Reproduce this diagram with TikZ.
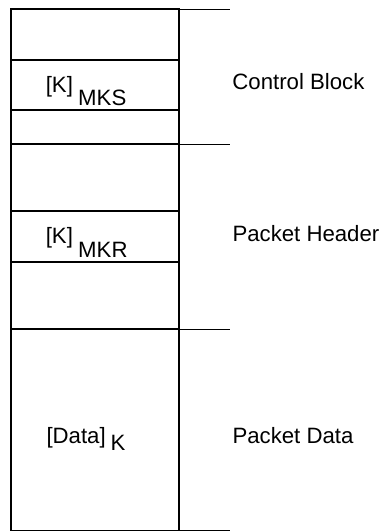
\documentclass[tikz,border=0pt]{standalone}
\usepackage{fontspec}
\setmainfont{Liberation Sans}
\begin{document}
\begin{tikzpicture}[x=1pt,y=-1pt,
  font=\fontsize{22.2}{26}\selectfont,
  lbl/.style={anchor=base west, inner sep=0pt},
  rule/.style={line width=1.2pt, line cap=rect},
  ext/.style={line width=1pt}]
\useasboundingbox (0,0) rectangle (381,531);
% outer frame of the stack
\draw[rule] (11,9) -- (11,530.5);
\draw[rule] (179,9) -- (179,530.5);
\foreach \yy in {9,60,110,144,211,262,329,530.5}
  \draw[rule] (11,\yy) -- (179,\yy);
% section separators extending to the right
\foreach \yy in {9,144,329,530.5}
  \draw[ext] (179,\yy) -- (230,\yy);
% field labels
\node[lbl] (kmks) at (45.6,92.7) {[K]\hspace{5.3pt}\raisebox{-12.3pt}{MKS}};
\node[lbl] (kmkr) at (45.6,243.3) {[K]\hspace{5.3pt}\raisebox{-14pt}{MKR}};
\node[lbl] (datak) at (46.3,443.3) {[Data]\hspace{5pt}\raisebox{-7.4pt}{K}};
% section labels
\node[lbl] (cb) at (232.2,89.5) {Control Block};
\node[lbl] (ph) at (232.3,241.7) {Packet Header};
\node[lbl] (pd) at (232.3,443.3) {Packet Data};
\end{tikzpicture}
\end{document}
